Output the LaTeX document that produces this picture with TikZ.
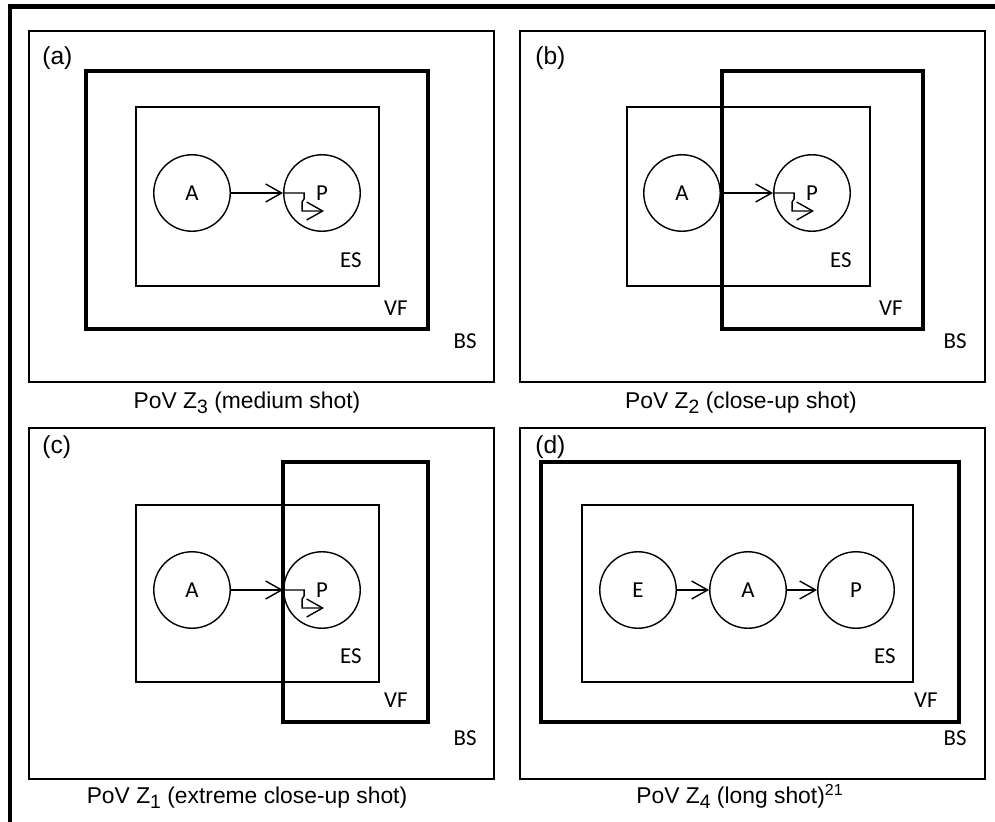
\documentclass[tikz,border=0pt]{standalone}
\usepackage{fontspec}
\setmainfont{Liberation Sans}
\newfontfamily\calibri{Carlito}
\usetikzlibrary{arrows.meta}
\newcommand\zidx[1]{\raisebox{-0.45ex}{\fontsize{11}{12}\selectfont#1}}

\begin{document}
\begin{tikzpicture}[x=0.02cm,y=-0.02cm,
  frame/.style={line width=2.8pt},
  thinbox/.style={line width=0.75pt},
  viewbox/.style={line width=2.3pt},
  agent/.style={circle,draw,line width=0.8pt,minimum size=1.53cm,inner sep=0pt,font=\calibri\fontsize{13}{15}\selectfont},
  flow/.style={line width=0.8pt,-{Straight Barb[length=0.32cm,width=0.36cm]}},
  tag/.style={anchor=base west,inner sep=0pt,font=\fontsize{14}{16}\selectfont},
  zone/.style={anchor=base east,inner sep=0pt,font=\calibri\fontsize{13}{15}\selectfont},
  caption/.style={anchor=base,font=\fontsize{13}{15}\selectfont}]
\fill[white] (0,0) rectangle (995,822);
\useasboundingbox (0,0) rectangle (995,822);
\draw[frame] (10,822) -- (10,6.5) -- (995,6.5);

% (a) medium shot
\draw[thinbox] (29,31) rectangle (494,382);
\draw[viewbox] (86,71) rectangle (428,329);
\draw[thinbox] (136,107) rectangle (379,286);
\node[tag] (atag) at (42,64) {(a)};
\node[agent] (aA) at (192,193) {A};
\node[agent] (aP) at (322,193) {P};
\draw[flow] (aA) -- (aP);
\node[zone] (aES) at (362,267) {ES};
\node[zone] (aVF) at (408,315) {VF};
\node[zone] (aBS) at (477,348) {BS};
\node[caption] (acap) at (247,408) {PoV Z\zidx{3} (medium shot)};

% (b) close-up shot
\draw[thinbox] (520,31) rectangle (985,382);
\draw[thinbox] (627,107) rectangle (870,286);
\draw[viewbox] (722,71) rectangle (923,329);
\node[tag] (btag) at (535,64) {(b)};
\node[agent] (bA) at (682,193) {A};
\node[agent] (bP) at (812,193) {P};
\draw[flow] (bA) -- (bP);
\node[zone] (bES) at (852,267) {ES};
\node[zone] (bVF) at (903,315) {VF};
\node[zone] (bBS) at (967,348) {BS};
\node[caption] (bcap) at (741,408) {PoV Z\zidx{2} (close-up shot)};

% (c) extreme close-up shot
\draw[thinbox] (29,428) rectangle (494,779);
\draw[thinbox] (136,505) rectangle (379,682);
\draw[viewbox] (283,462) rectangle (428,722);
\node[tag] (ctag) at (42,453) {(c)};
\node[agent] (cA) at (192,590) {A};
\node[agent] (cP) at (322,590) {P};
\draw[flow] (cA) -- (cP);
\node[zone] (cES) at (362,663) {ES};
\node[zone] (cVF) at (408,707) {VF};
\node[zone] (cBS) at (477,745) {BS};
\node[caption] (ccap) at (247,803) {PoV Z\zidx{1} (extreme close-up shot)};

% turn inside P
\foreach \p in {aP,bP,cP} {
\draw[flow] (\p.west) -- ++(21,0) -- ++(0,6) -- ++(-2,3) -- ++(0,9) -- ++(22,0);
}

% (d) long shot
\draw[thinbox] (520,428) rectangle (985,779);
\draw[viewbox] (541,462) rectangle (959,722);
\draw[thinbox] (582,505) rectangle (913,682);
\node[tag] (dtag) at (535,453) {(d)};
\node[agent] (dE) at (638,590) {E};
\node[agent] (dA) at (748,590) {A};
\node[agent] (dP) at (856,590) {P};
\draw[flow] (dE) -- (dA);
\draw[flow] (dA) -- (dP);
\node[zone] (dES) at (896,663) {ES};
\node[zone] (dVF) at (938,707) {VF};
\node[zone] (dBS) at (967,745) {BS};
\node[caption] (dcap) at (740,803) {PoV Z\zidx{4} (long shot)\textsuperscript{21}};
\end{tikzpicture}
\end{document}
